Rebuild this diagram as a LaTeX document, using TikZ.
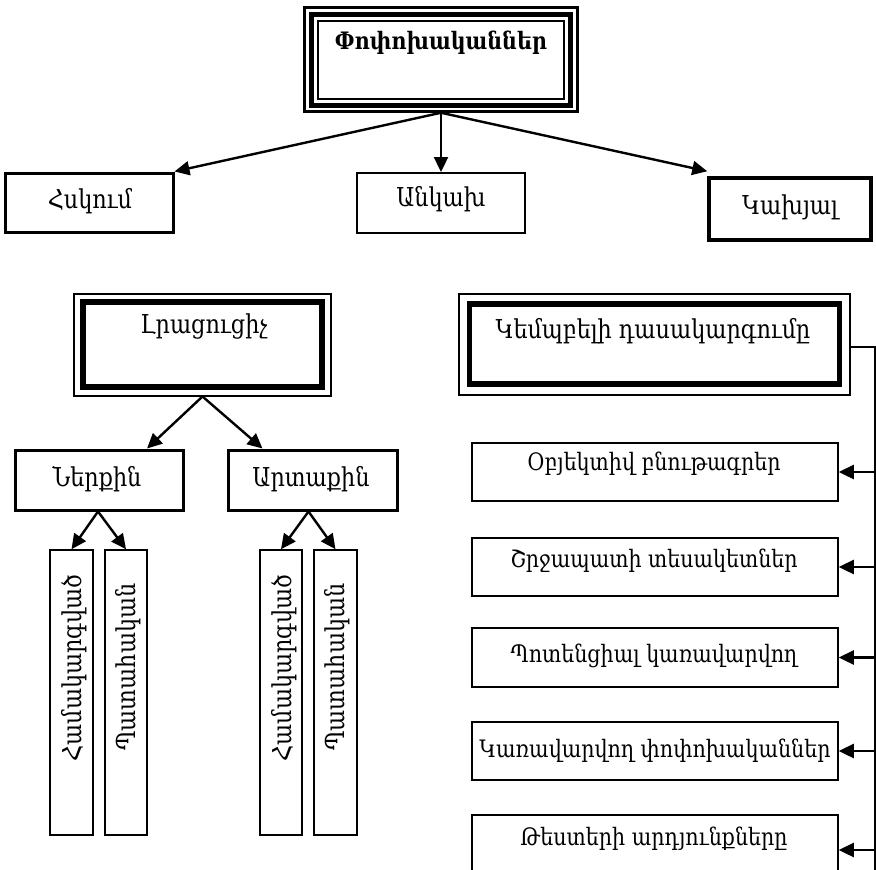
\documentclass[tikz,border=0pt]{standalone}
\usepackage{fontspec}
\setmainfont{DejaVu Serif}[FakeStretch=0.86]
\usetikzlibrary{arrows.meta}
\begin{document}
\begin{tikzpicture}[x=1pt,y=-1pt,
  txt/.style={inner sep=0pt, font=\fontsize{26}{30}\selectfont},
  stxt/.style={inner sep=0pt, font=\fontsize{24}{28}\selectfont},
  frame/.style={draw, inner sep=0pt, line width=#1},
  arr/.style={line width=2.4pt, -{Triangle[length=15pt,width=14pt]}},
  rarr/.style={line width=2.4pt, -{Triangle[length=15pt,width=14pt]}}]
\useasboundingbox (0,0) rectangle (876,870);
\clip (0,0) rectangle (876,870);
% top box
\node[frame=2.5pt, minimum width=273pt, minimum height=104pt] (topO) at (441,59.5) {};
\node[frame=5pt, minimum width=259pt, minimum height=91pt] (topM) at (441,59.5) {};
\node[frame=2pt, minimum width=246pt, minimum height=78pt] (topI) at (441,60) {};
\node[stxt, font=\fontsize{24}{28}\selectfont\bfseries] (topT) at (441,43) {Փոփոխականներ};
% second row
\node[frame=3pt, minimum width=168pt, minimum height=59pt] (hsk) at (89,202.5) {};
\node[txt] (hskT) at (90,201) {Հսկում};
\node[frame=2pt, minimum width=168pt, minimum height=60pt] (ank) at (441,203) {};
\node[txt] (ankT) at (441,199) {Անկախ};
\node[frame=3.5pt, minimum width=162pt, minimum height=62pt] (kax) at (790,209) {};
\node[txt] (kaxT) at (790,207) {Կախյալ};
\draw[arr] (topO.south) -- (hsk.north east);
\draw[arr] (topO.south) -- (ank.north);
\draw[arr] (topO.south) -- ([yshift=5pt]kax.north west);
% Lracucich
\node[frame=2pt, minimum width=257pt, minimum height=102pt] (lrO) at (202.5,344.5) {};
\node[frame=5.5pt, minimum width=239pt, minimum height=85pt] (lrM) at (202.5,344.5) {};
\node[txt] (lrT) at (204,327) {Լրացուցիչ};
\node[frame=3pt, minimum width=168pt, minimum height=60pt] (ner) at (99,480) {};
\node[txt] (nerT) at (97,479) {Ներքին};
\node[frame=3pt, minimum width=169pt, minimum height=60pt] (art) at (312.5,480) {};
\node[txt] (artT) at (311,479) {Արտաքին};
\draw[arr] (lrO.south) -- ([xshift=48pt]ner.north);
\draw[arr] (lrO.south) -- ([xshift=-50pt]art.north);
% columns
\node[frame=1.5pt, minimum width=43pt, minimum height=285pt] (c1) at (71.5,692.5) {};
\node[frame=1.5pt, minimum width=42pt, minimum height=285pt] (c2) at (126,692.5) {};
\node[frame=1.5pt, minimum width=42pt, minimum height=285pt] (c3) at (281,692.5) {};
\node[frame=1.5pt, minimum width=43pt, minimum height=285pt] (c4) at (335.5,692.5) {};
\node[txt, rotate=90] (c1T) at (74,668) {Համակարգված};
\node[txt, rotate=90] (c2T) at (128,667) {Պատահական};
\node[txt, rotate=90] (c3T) at (284,668) {Համակարգված};
\node[txt, rotate=90] (c4T) at (337,667) {Պատահական};
\draw[arr] ([xshift=-1pt]ner.south) -- (c1.north);
\draw[arr] ([xshift=-1pt]ner.south) -- (c2.north);
\draw[arr] ([xshift=-4pt]art.south) -- (c3.north);
\draw[arr] ([xshift=-4pt]art.south) -- (c4.north);
% Kempbel
\node[frame=2pt, minimum width=391pt, minimum height=101pt] (kmO) at (654.5,344.5) {};
\node[frame=5.5pt, minimum width=370pt, minimum height=80pt] (kmM) at (654.5,344) {};
\node[txt] (kmT) at (653,331) {Կեմպբելի դասակարգումը};
\coordinate (vtop) at (875,347);
\coordinate (vbot) at (875,872);
\draw[line width=2pt] (kmO.east |- vtop) -- (vtop) -- (vbot);
% right boxes
\node[frame=1.5pt, minimum width=366pt, minimum height=58pt] (r1) at (655,472) {};
\node[stxt] (r1T) at (654,464) {Օբյեկտիվ բնութագրեր};
\node[frame=1.5pt, minimum width=366pt, minimum height=58pt] (r2) at (655,567) {};
\node[stxt] (r2T) at (654,561) {Շրջապատի տեսակետներ};
\node[frame=1.5pt, minimum width=366pt, minimum height=59pt] (r3) at (655,657.5) {};
\node[stxt] (r3T) at (654,656) {Պոտենցիալ կառավարվող};
\node[frame=1.5pt, minimum width=366pt, minimum height=58pt] (r4) at (655,751) {};
\node[stxt] (r4T) at (655,751) {Կառավարվող փոփոխականներ};
\node[frame=1.5pt, minimum width=366pt, minimum height=70pt] (r5) at (655,850) {};
\node[stxt] (r5T) at (654,839) {Թեստերի արդյունքները};
\foreach \b in {r1,r2,r3,r4,r5}{
  \draw[rarr] (vtop |- \b.east) -- (\b.east);
}
\end{tikzpicture}
\end{document}
